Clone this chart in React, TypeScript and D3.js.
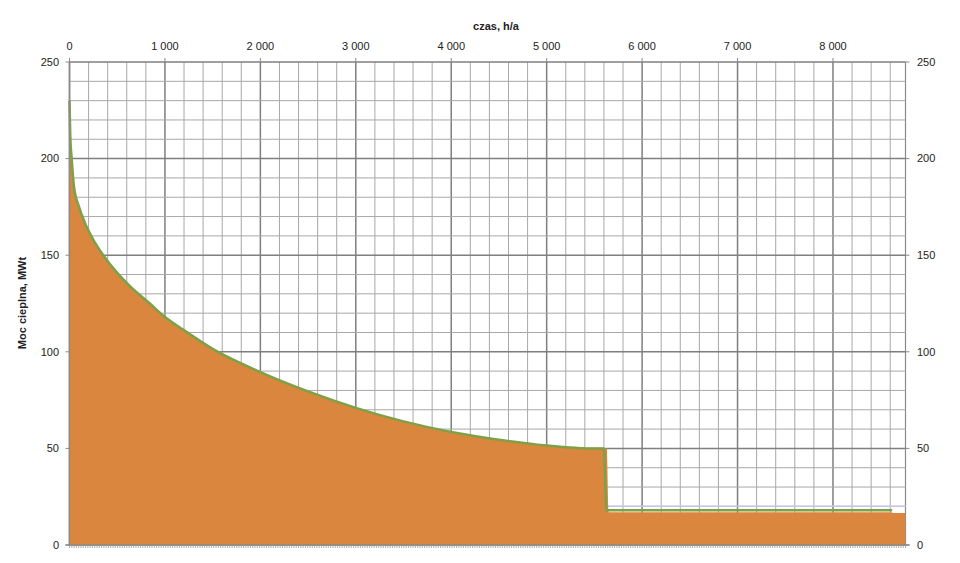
import React from "react";
import * as d3 from "d3";

// Load-duration curve (line series)
const lineHours = [0, 8, 23, 47, 100, 162, 250, 354, 480, 633, 842, 1000, 1190, 1500, 2000, 2500, 3000, 3500, 4000, 4500, 5000, 5300, 5450, 5600, 5625, 8620];
const linePower = [230, 212, 200, 185.5, 175, 166.7, 158, 150, 142, 134, 125, 118, 111.5, 101.5, 89.5, 79.5, 71, 64, 58.5, 54.5, 51.5, 50.3, 50, 50, 18, 18];

// Filled area series
const areaHours = [0, 8, 23, 47, 100, 162, 250, 354, 480, 633, 842, 1000, 1190, 1500, 2000, 2500, 3000, 3500, 4000, 4500, 5000, 5300, 5450, 5630, 5650, 8620, 8625, 8760];
const areaPower = [230, 212, 200, 185.5, 175, 166.7, 158, 150, 142, 134, 125, 118, 111.5, 101.5, 89.5, 79.5, 71, 64, 58.5, 54.5, 51.5, 50.3, 50, 50, 17, 17, 16.5, 16.5];

// Faint reference line
const refHours = [5640, 8760];
const refPower = [20, 20];

const xTickValues = [0, 1000, 2000, 3000, 4000, 5000, 6000, 7000, 8000];
const yTickValues = [0, 50, 100, 150, 200, 250];

const xTitle = "czas, h/a";
const yTitle = "Moc cieplna,  MWt";

const W = 960;
const H = 563;
const m = { left: 69.5, right: 905.5, top: 62, bottom: 545 };

export default function App() {
  const x = d3.scaleLinear().domain([0, 8760]).range([m.left, m.right]);
  const y = d3.scaleLinear().domain([0, 250]).range([m.bottom, m.top]);
  const fmt = (v: number) => d3.format(",")(v).replace(/,/g, " ");

  const xMinor = d3.range(0, 8761, 200);
  const yMinor = d3.range(0, 251, 10);
  const bottomTicks = d3.range(0, 8761, 24);

  const areaData = areaHours.map((h, i) => [h, areaPower[i]] as [number, number]);
  const lineData = lineHours.map((h, i) => [h, linePower[i]] as [number, number]);
  const refData = refHours.map((h, i) => [h, refPower[i]] as [number, number]);

  const area = d3
    .area<[number, number]>()
    .x((d) => x(d[0]))
    .y0(y(0))
    .y1((d) => y(d[1]))
    .curve(d3.curveMonotoneX);
  const line = d3
    .line<[number, number]>()
    .x((d) => x(d[0]))
    .y((d) => y(d[1]))
    .curve(d3.curveMonotoneX);
  const refLine = d3
    .line<[number, number]>()
    .x((d) => x(d[0]))
    .y((d) => y(d[1]));

  const font = "'Liberation Sans', Arial, sans-serif";

  return (
    <svg
      width={W}
      height={H}
      style={{ position: "absolute", left: 0, top: 0, background: "#fff" }}
      fontFamily={font}
    >
      <rect x={0} y={0} width={W} height={H} fill="#fff" />
      {/* minor grid */}
      {xMinor.map((v) => (
        <line
          key={"gx" + v}
          x1={x(v)}
          x2={x(v)}
          y1={m.top}
          y2={m.bottom}
          stroke={v % 1000 === 0 ? "#7f7f7f" : "#a8a8a8"}
          strokeWidth={v % 1000 === 0 ? 1.5 : 1}
        />
      ))}
      <line x1={m.right} x2={m.right} y1={m.top} y2={m.bottom} stroke="#8a8a8a" strokeWidth={1.2} />
      {yMinor.map((v) => (
        <line
          key={"gy" + v}
          x1={m.left}
          x2={m.right}
          y1={y(v)}
          y2={y(v)}
          stroke={v % 50 === 0 ? "#7f7f7f" : "#a8a8a8"}
          strokeWidth={v % 50 === 0 ? 1.5 : 1}
        />
      ))}
      {/* reference line */}
      <path d={refLine(refData) || ""} fill="none" stroke="#c4c4ee" strokeWidth={1.5} />
      {/* area */}
      <path d={area(areaData) || ""} fill="#DB863E" />
      {/* line */}
      <path d={line(lineData) || ""} fill="none" stroke="#7FA043" strokeWidth={2.5} />
      {/* axes */}
      <line x1={m.left} x2={m.left} y1={m.top} y2={m.bottom} stroke="#8a8a8a" strokeWidth={1.5} />
      <line x1={m.left - 4} x2={m.right + 4} y1={m.bottom} y2={m.bottom} stroke="#8a8a8a" strokeWidth={1.5} />
      {bottomTicks.map((v) => (
        <line key={"bt" + v} x1={x(v)} x2={x(v)} y1={m.bottom} y2={m.bottom + 3} stroke="#9a9a9a" strokeWidth={0.8} />
      ))}
      {yTickValues.map((v) => (
        <g key={"yt" + v}>
          <line x1={m.left - 4} x2={m.left} y1={y(v)} y2={y(v)} stroke="#8a8a8a" />
          <line x1={m.right} x2={m.right + 4} y1={y(v)} y2={y(v)} stroke="#8a8a8a" />
          <text x={59} y={y(v)} dy="0.35em" textAnchor="end" fontSize={11} fill="#222">
            {v}
          </text>
          <text x={917} y={y(v)} dy="0.35em" textAnchor="start" fontSize={11} fill="#222">
            {v}
          </text>
        </g>
      ))}
      {xTickValues.map((v) => (
        <g key={"xt" + v}>
          <line x1={x(v)} x2={x(v)} y1={m.top - 4} y2={m.top} stroke="#8a8a8a" />
          <text x={x(v)} y={50} textAnchor="middle" fontSize={11} fill="#222">
            {fmt(v)}
          </text>
        </g>
      ))}
      <text x={496} y={30} textAnchor="middle" fontSize={11} fontWeight="bold" fill="#222">
        {xTitle}
      </text>
      <text
        transform={`translate(26,303) rotate(-90)`}
        textAnchor="middle"
        fontSize={11}
        fontWeight="bold"
        fill="#222"
      >
        {yTitle}
      </text>
    </svg>
  );
}
